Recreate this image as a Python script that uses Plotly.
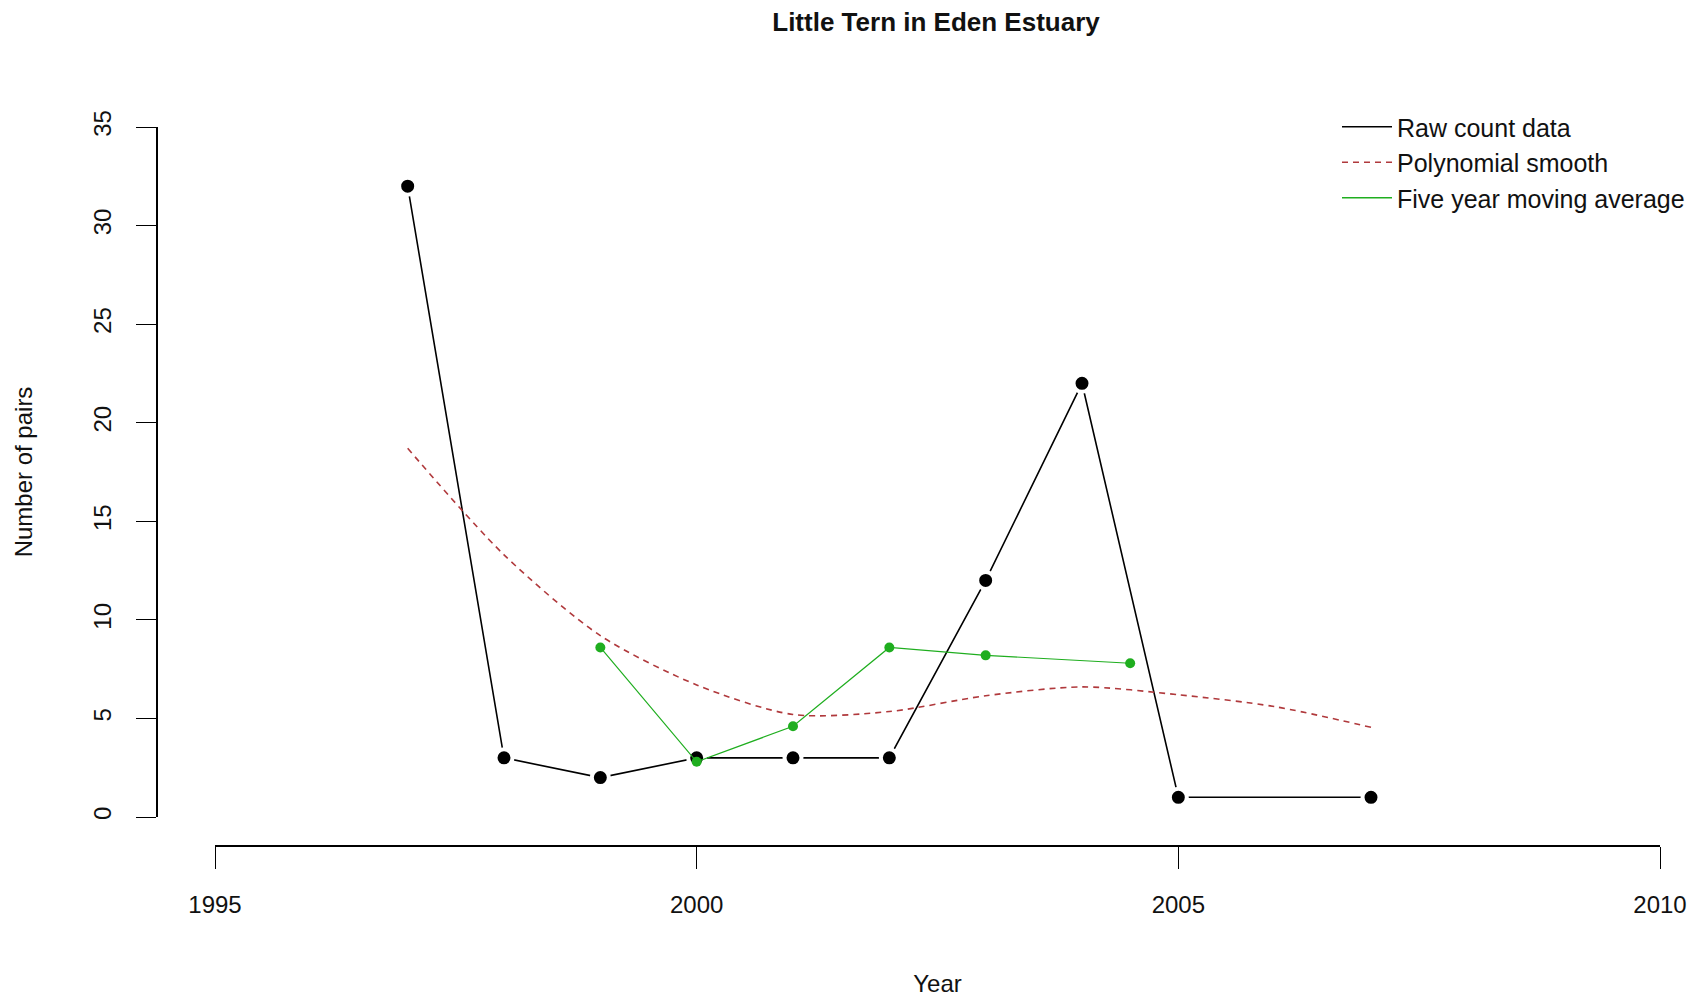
import plotly.graph_objects as go

# Raw count data
years = [1997, 1998, 1999, 2000, 2001, 2002, 2003, 2004, 2005, 2007]
counts = [32, 3, 2, 3, 3, 3, 12, 22, 1, 1]

# Polynomial smooth
smooth_years = [1997, 1998, 1999, 2000, 2001, 2002, 2003, 2004, 2005, 2006, 2007]
smooth_vals = [18.7, 13.3, 9.2, 6.7, 5.2, 5.35, 6.15, 6.6, 6.2, 5.6, 4.55]

# Five year moving average
ma_years = [1999, 2000, 2001, 2002, 2003, 2004.5]
ma_vals = [8.6, 2.8, 4.6, 8.6, 8.2, 7.8]

x_ticks = [1995, 2000, 2005, 2010]
y_ticks = [0, 5, 10, 15, 20, 25, 30, 35]

FONT = "Liberation Sans, Arial, sans-serif"
RED = "#b0393c"
GREEN = "#1fae1f"
TXT = "#111"

fig = go.Figure()

fig.add_trace(go.Scatter(
    x=years, y=counts, mode="lines+markers", showlegend=False,
    line=dict(color="black", width=1.6),
    marker=dict(color="black", size=17, line=dict(color="white", width=4)),
))
fig.add_trace(go.Scatter(
    x=smooth_years, y=smooth_vals, mode="lines", showlegend=False,
    line=dict(color=RED, width=1.6, dash="6px,5px", shape="spline", smoothing=0.8),
))
fig.add_trace(go.Scatter(
    x=ma_years, y=ma_vals, mode="lines+markers", showlegend=False,
    line=dict(color=GREEN, width=1.2),
    marker=dict(color=GREEN, size=10),
))

# legend-only entries (lines only, as in the original)
fig.add_trace(go.Scatter(x=[None], y=[None], mode="lines", name="Raw count data",
                         line=dict(color="black", width=1.6)))
fig.add_trace(go.Scatter(x=[None], y=[None], mode="lines", name="Polynomial smooth",
                         line=dict(color=RED, width=1.6, dash="6px,5px")))
fig.add_trace(go.Scatter(x=[None], y=[None], mode="lines", name="Five year moving average",
                         line=dict(color=GREEN, width=1.6)))

# page has an 8px body margin; compensate
OFF = 8
W, H = 1697 - OFF, 1000 - OFF
L, T = 157 - OFF, 127 - OFF
R = W - (1660 - OFF)
B = H - (846 - OFF)
pw = W - L - R
ph = H - T - B

fig.update_layout(
    width=W, height=H,
    margin=dict(l=L, r=R, t=T, b=B, pad=0, autoexpand=False),
    paper_bgcolor="white", plot_bgcolor="white",
    font=dict(family=FONT, size=24, color=TXT),
    title=dict(text="<b>Little Tern in Eden Estuary</b>", x=(936 - OFF) / W, xanchor="center",
               xref="container", y=1 - 5 / H, yanchor="top", pad=dict(t=0, b=0),
               font=dict(size=26, family=FONT, color=TXT)),
    legend=dict(x=1 + 30 / pw, xanchor="right", y=1 + 23 / ph, yanchor="top",
                bgcolor="rgba(0,0,0,0)", font=dict(size=25, family=FONT, color=TXT),
                tracegroupgap=0, itemwidth=50),
    xaxis=dict(
        range=[1995, 2010], domain=[(215 - 157) / pw, 1], anchor="free", position=0,
        automargin=False,
        tickvals=x_ticks, ticktext=[str(v) for v in x_ticks],
        showgrid=False, zeroline=False, showline=True, linecolor="black", linewidth=1.6,
        ticks="outside", ticklen=22, tickwidth=1.4, tickcolor="black",
        tickfont=dict(size=24, family=FONT, color=TXT), ticklabelstandoff=15,
        title=dict(text="Year", font=dict(size=24, family=FONT, color=TXT), standoff=58),
    ),
    yaxis=dict(
        range=[0, 35], domain=[(846 - 817) / ph, 1], anchor="free", position=0,
        automargin=False,
        tickvals=y_ticks, ticktext=[str(v) for v in y_ticks], tickangle=-90,
        showgrid=False, zeroline=False, showline=True, linecolor="black", linewidth=1.6,
        ticks="outside", ticklen=20, tickwidth=1.4, tickcolor="black",
        tickfont=dict(size=24, family=FONT, color=TXT), ticklabelstandoff=16,
        title=dict(text="Number of pairs", font=dict(size=24, family=FONT, color=TXT), standoff=48),
    ),
)

fig.write_html("out.html")
